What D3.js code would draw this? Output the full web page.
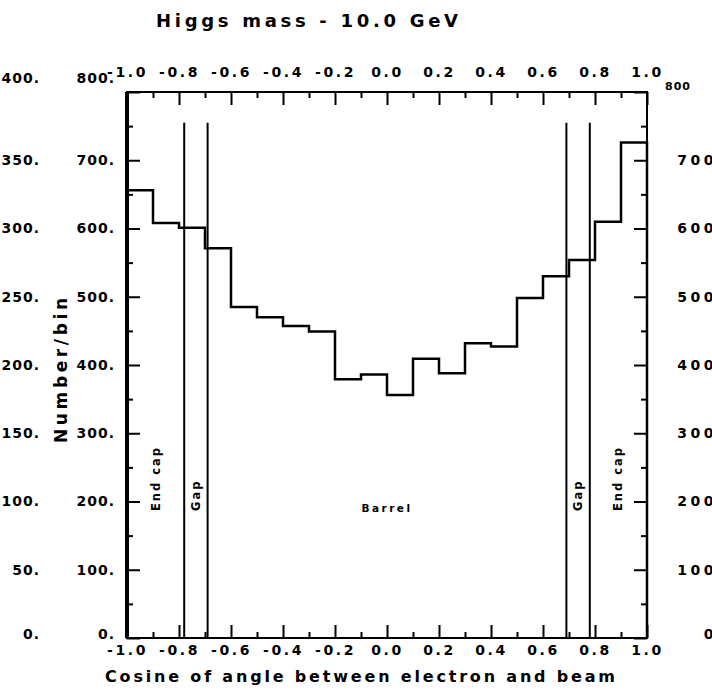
<!DOCTYPE html>
<html>

<head>
    <meta charset="utf-8">
    <script src="https://cdn.jsdelivr.net/npm/d3@7"></script>
    <style>
        body { margin: 0; background: #fff; }
        text { font-family: "DejaVu Sans", sans-serif; font-weight: bold; fill: #000; }
    </style>
    <script>
        // bin edges of the histogram (cos theta)
        let binEdges = [-1.0, -0.9, -0.8, -0.7, -0.6, -0.5, -0.4, -0.3, -0.2, -0.1, 0.0,
            0.1, 0.2, 0.3, 0.4, 0.5, 0.6, 0.7, 0.8, 0.9, 1.0];
        // entries per bin
        let counts = [656, 608, 601, 571, 485, 470, 457, 449, 379, 386,
            356, 409, 388, 432, 427, 498, 530, 554, 610, 726];

        // detector region boundaries and names
        let regionEdges = [-1.0, -0.78, -0.69, 0.69, 0.78, 1.0];
        let regionNames = ["End cap", "Gap", "Barrel", "Gap", "End cap"];
        let dividerTop = 755;

        let xTicks = [-1.0, -0.8, -0.6, -0.4, -0.2, 0.0, 0.2, 0.4, 0.6, 0.8, 1.0];
        let xMinorTicks = [-0.9, -0.7, -0.5, -0.3, -0.1, 0.1, 0.3, 0.5, 0.7, 0.9];
        let yTicks = [0, 100, 200, 300, 400, 500, 600, 700, 800];
        let yMinorTicks = [50, 150, 250, 350, 450, 550, 650, 750];
        let yOuterTicks = [0, 50, 100, 150, 200, 250, 300, 350, 400];

        function draw() {
            let width = 712;
            let height = 691;
            let left = 127, right = 647, top = 92, bottom = 638;

            let svg = d3.select('body').append('svg')
                .attr('width', width)
                .attr('height', height);

            svg.append('rect').attr('width', width).attr('height', height).attr('fill', '#fff');

            let x = d3.scaleLinear().domain([-1, 1]).range([left, right]);
            let y = d3.scaleLinear().domain([0, 800]).range([bottom, top]);
            let yOuter = d3.scaleLinear().domain([0, 400]).range([bottom, top]);

            // title
            svg.append('text')
                .attr('x', 156).attr('y', 27)
                .attr('font-size', 18)
                .attr('textLength', 302).attr('lengthAdjust', 'spacing')
                .text('Higgs mass - 10.0 GeV');

            // frame
            svg.append('rect')
                .attr('x', left).attr('y', top)
                .attr('width', right - left).attr('height', bottom - top)
                .attr('fill', 'none').attr('stroke', '#000').attr('stroke-width', 2);
            svg.append('line')
                .attr('x1', left).attr('x2', left).attr('y1', top).attr('y2', bottom)
                .attr('stroke', '#000').attr('stroke-width', 4);

            // tick marks on all four sides, pointing inwards
            function ticks(axis, tx, ty) {
                let g = svg.append('g').attr('transform', 'translate(' + tx + ',' + ty + ')').call(axis);
                g.select('.domain').remove();
                g.selectAll('.tick line').attr('stroke-width', 2);
                return g;
            }
            ticks(d3.axisRight(y).tickValues(yTicks).tickSize(13).tickFormat(''), left, 0);
            ticks(d3.axisRight(y).tickValues(yMinorTicks).tickSize(6).tickFormat(''), left, 0);
            ticks(d3.axisLeft(y).tickValues(yTicks).tickSize(13).tickFormat(''), right, 0);
            ticks(d3.axisLeft(y).tickValues(yMinorTicks).tickSize(6).tickFormat(''), right, 0);
            ticks(d3.axisBottom(x).tickValues(xTicks).tickSize(13).tickFormat(''), 0, top);
            ticks(d3.axisBottom(x).tickValues(xMinorTicks).tickSize(6).tickFormat(''), 0, top);
            ticks(d3.axisTop(x).tickValues(xTicks).tickSize(13).tickFormat(''), 0, bottom);
            ticks(d3.axisTop(x).tickValues(xMinorTicks).tickSize(6).tickFormat(''), 0, bottom);

            // tick labels
            function labels(axis, tx, ty, size, spacing) {
                let g = svg.append('g').attr('transform', 'translate(' + tx + ',' + ty + ')').call(axis);
                g.select('.domain').remove();
                g.selectAll('.tick line').remove();
                g.attr('font-family', null).attr('font-size', null);
                g.selectAll('text').attr('font-size', size).style('letter-spacing', spacing + 'px');
                return g;
            }
            let fmtX = d => d.toFixed(1);
            labels(d3.axisTop(x).tickValues(xTicks).tickSize(0).tickPadding(15).tickFormat(fmtX), 0, top, 14, 2.6);
            labels(d3.axisBottom(x).tickValues(xTicks).tickSize(0).tickPadding(7).tickFormat(fmtX), 0, bottom, 14, 2.6);

            let inner = labels(d3.axisLeft(y).tickValues(yTicks).tickSize(0).tickPadding(12).tickFormat(d => d + '.'), left, 0, 14, 1);
            let outer = labels(d3.axisLeft(yOuter).tickValues(yOuterTicks).tickSize(0).tickPadding(0).tickFormat(d => d + '.'), 40, 0, 14, 1);
            [inner, outer].forEach(function (g) {
                g.selectAll('.tick').filter(d => d === 800 || (g === outer && d === 400)).select('text').attr('dy', '-0.65em');
                g.selectAll('.tick').filter(d => d === 0).select('text').attr('dy', '0');
            });

            let rightLabels = labels(d3.axisLeft(y).tickValues(yTicks).tickSize(0).tickPadding(0).tickFormat(d => d), 717, 0, 14, 3.5);
            rightLabels.selectAll('.tick').filter(d => d === 800).select('text')
                .attr('font-size', 11).style('letter-spacing', '1px')
                .attr('x', -52).attr('text-anchor', 'start').attr('dy', '-0.2em');
            rightLabels.selectAll('.tick').filter(d => d === 0).select('text').attr('dy', '0');

            // axis titles
            svg.append('text')
                .attr('x', 105).attr('y', 682)
                .attr('font-size', 16)
                .attr('textLength', 510).attr('lengthAdjust', 'spacing')
                .text('Cosine of angle between electron and beam');
            svg.append('text')
                .attr('transform', 'translate(67,443) rotate(-90)')
                .attr('font-size', 17)
                .attr('textLength', 145).attr('lengthAdjust', 'spacing')
                .text('Number/bin');

            // region divider lines
            svg.selectAll('.divider')
                .data(regionEdges.slice(1, -1))
                .enter()
                .append('line')
                    .attr('class', 'divider')
                    .attr('x1', d => x(d)).attr('x2', d => x(d))
                    .attr('y1', y(dividerTop)).attr('y2', y(0))
                    .attr('stroke', '#000').attr('stroke-width', 2);

            // region names
            regionNames.forEach(function (name, i) {
                let mid = (regionEdges[i] + regionEdges[i + 1]) / 2;
                if (name === 'Barrel') {
                    svg.append('text')
                        .attr('x', x(mid)).attr('y', 512)
                        .attr('text-anchor', 'middle')
                        .attr('font-size', 10.5).style('letter-spacing', '2.5px')
                        .text(name);
                } else {
                    svg.append('text')
                        .attr('transform', 'translate(' + x(mid) + ',511) rotate(-90)')
                        .attr('dy', '0.35em')
                        .attr('font-size', 11.5).style('letter-spacing', '2px')
                        .text(name);
                }
            });

            // histogram outline
            let pts = [[binEdges[0], 0]];
            counts.forEach(function (c, i) {
                pts.push([binEdges[i], c]);
                pts.push([binEdges[i + 1], c]);
            });
            pts.push([binEdges[binEdges.length - 1], 0]);

            let line = d3.line().x(d => x(d[0])).y(d => y(d[1]));
            svg.append('path')
                .attr('d', line(pts))
                .attr('fill', 'none')
                .attr('stroke', '#000')
                .attr('stroke-width', 2.5);
        }
    </script>
</head>

<body>
    <script>
        draw();
    </script>
</body>

</html>
